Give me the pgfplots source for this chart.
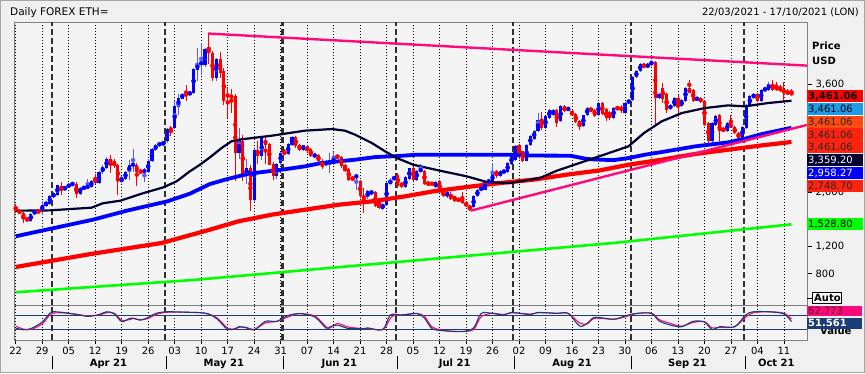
\documentclass[border=0pt]{standalone}
\usepackage{fontspec}
\setmainfont{DejaVu Sans}
\usepackage{pgfplots}
\pgfplotsset{compat=1.18}
\usepackage{pgfplotstable}
\definecolor{outerbg}{HTML}{F0F0F0}
\definecolor{plotbg}{HTML}{F4F4F4}
\definecolor{framec}{HTML}{808080}
\definecolor{monthc}{HTML}{303030}
\definecolor{upc}{HTML}{0000FF}
\definecolor{upwick}{HTML}{5A5AFF}
\definecolor{dnc}{HTML}{FF0000}
\definecolor{maA}{HTML}{000033}
\definecolor{maB}{HTML}{0000FF}
\definecolor{maC}{HTML}{FF0000}
\definecolor{maD}{HTML}{00FF00}
\definecolor{pinkc}{HTML}{FF0A7A}
\definecolor{stochK}{HTML}{1A3C78}
\definecolor{boxsky}{HTML}{1E9BE6}
\definecolor{boxor}{HTML}{FF4A10}
\definecolor{boxrd}{HTML}{FF2410}
\definecolor{boxnavy}{HTML}{00002E}

\pgfplotstableread{
d o h l c
0 1794 1830 1700 1730
1 1730 1760 1680 1695
2 1695 1710 1550 1610
3 1615 1640 1560 1595
4 1582 1700 1570 1680
5 1680 1745 1665 1730
6 1730 1750 1690 1705
7 1730 1870 1660 1820
8 1804 1880 1790 1858
9 1834 1960 1820 1952
10 1932 2000 1915 1987
11 1967 2110 1950 2105
12 2090 2150 1960 2026
13 2036 2100 2020 2090
14 2075 2140 2060 2125
15 2110 2160 2095 2140
16 2130 2150 1920 1982
17 1982 2075 1970 2066
18 2056 2100 2040 2080
19 2066 2200 2050 2100
20 2086 2180 2070 2165
21 2214 2280 2120 2135
22 2135 2320 2120 2308
23 2298 2400 2280 2382
24 2362 2520 2350 2501
25 2496 2560 2290 2446
26 2471 2490 2360 2387
27 2402 2420 1960 2165
28 2155 2240 2140 2224
29 2204 2320 2190 2303
30 2298 2480 2190 2412
31 2402 2650 2310 2422
32 2412 2430 2100 2303
33 2323 2340 2280 2298
34 2298 2360 2150 2338
35 2303 2490 2290 2471
36 2461 2660 2450 2644
37 2634 2720 2620 2708
38 2698 2750 2680 2733
39 2698 2770 2690 2757
40 2757 2960 2740 2940
41 2955 2980 2840 2916
42 2955 3350 2940 3286
43 3266 3460 3150 3400
44 3390 3480 3380 3464
45 3459 3600 3360 3444
46 3449 3510 3430 3488
47 3474 3840 3460 3829
48 3819 4140 3650 3908
49 3900 4215 3740 3930
50 3884 4140 3860 4126
51 4126 4358 3900 4066
52 4066 4100 3650 3696
53 3696 4000 3650 3978
54 3978 4080 3700 3770
55 3795 3850 3300 3350
56 3450 3570 3100 3425
57 3430 3540 3180 3410
58 3425 3460 2166 2585
59 2585 2950 2500 2782
60 2758 2850 2166 2240
61 2264 2500 2120 2363
62 2363 2400 1730 1893
63 1893 2650 1860 2634
64 2634 2760 2420 2536
65 2536 2830 2480 2807
66 2782 2820 2420 2708
67 2718 2740 2400 2412
68 2422 2450 2190 2240
69 2240 2430 2200 2422
70 2437 2600 2400 2585
71 2610 2640 2550 2570
72 2570 2730 2550 2718
73 2708 2830 2690 2817
74 2817 2840 2660 2683
75 2708 2720 2620 2634
76 2624 2710 2610 2698
77 2683 2700 2590 2609
78 2649 2660 2520 2536
79 2536 2580 2520 2560
80 2550 2570 2440 2461
81 2471 2490 2350 2372
82 2402 2480 2390 2461
83 2412 2580 2290 2486
84 2422 2600 2410 2535
85 2545 2560 2500 2520
86 2520 2540 2370 2387
87 2402 2420 2300 2323
88 2347 2360 2170 2190
89 2229 2240 2170 2190
90 2214 2280 2040 2264
91 2175 2190 1920 1942
92 1942 2070 1700 1918
93 1932 2030 1910 2017
94 1990 2040 1970 2007
95 2002 2020 1780 1794
96 1868 1890 1750 1770
97 1760 1850 1745 1829
98 1819 2160 1800 2140
99 2125 2210 2110 2190
100 2190 2250 2170 2239
101 2264 2290 2070 2091
102 2140 2160 2070 2091
103 2076 2240 2060 2224
104 2204 2370 2190 2362
105 2362 2380 2170 2190
106 2190 2340 2170 2323
107 2313 2420 2300 2347
108 2323 2340 2110 2125
109 2155 2170 2090 2115
110 2140 2160 2100 2115
111 2076 2165 2060 2150
112 2165 2180 2000 2017
113 2026 2040 1930 1943
114 1943 2015 1925 2002
115 1982 2000 1890 1908
116 1943 1955 1860 1878
117 1908 1920 1860 1878
118 1928 2000 1830 1844
119 1854 1870 1780 1794
120 1794 1810 1730 1770
121 1780 1960 1765 1943
122 1943 2050 1930 2041
123 2046 2080 2030 2066
124 2041 2170 2030 2155
125 2140 2200 2125 2190
126 2165 2440 2150 2273
127 2313 2330 2220 2239
128 2239 2330 2225 2313
129 2298 2340 2280 2323
130 2303 2450 2290 2437
131 2422 2550 2410 2535
132 2486 2710 2470 2683
133 2698 2720 2500 2520
134 2609 2620 2450 2471
135 2471 2720 2460 2708
136 2708 2850 2690 2832
137 2792 2930 2780 2916
138 2906 3177 2890 3079
139 3079 3200 2930 2955
140 2955 3140 2940 3128
141 3103 3240 3090 3227
142 3153 3240 3140 3227
143 3227 3240 2970 3029
144 3054 3290 3040 3276
145 3276 3290 3190 3202
146 3227 3260 3210 3251
147 3202 3215 3130 3143
148 3163 3175 3030 3044
149 3054 3070 2930 2990
150 2990 3150 2975 3143
151 3153 3260 3140 3251
152 3251 3265 3190 3202
153 3227 3240 3115 3128
154 3143 3340 3130 3326
155 3320 3340 3150 3170
156 3230 3250 3060 3110
157 3190 3210 3080 3100
158 3110 3270 3095 3250
159 3260 3275 3220 3240
160 3255 3300 3180 3230
161 3180 3340 3170 3320
162 3320 3390 3305 3375
163 3375 3720 3360 3707
164 3707 3820 3690 3800
165 3800 3915 3785 3900
166 3900 3920 3840 3860
167 3860 3915 3840 3900
168 3900 3960 3880 3930
169 3930 3950 3004 3400
170 3400 3480 3380 3460
171 3548 3620 3330 3390
172 3459 3480 3180 3227
173 3242 3310 3225 3291
174 3276 3420 3260 3400
175 3400 3450 3120 3276
176 3276 3390 3260 3375
177 3360 3560 3345 3548
178 3548 3661 3530 3474
179 3523 3540 3345 3360
180 3375 3420 3360 3400
181 3390 3410 3330 3350
182 3350 3365 2990 3004
183 3029 3045 2740 2757
184 2757 3045 2740 3029
185 3005 3145 2990 3128
186 3143 3160 2757 2915
187 2955 2970 2890 2906
188 2906 3045 2890 3029
189 3029 3153 2950 2965
190 2965 2980 2865 2881
191 2881 2895 2790 2807
192 2807 2980 2790 2965
193 2955 3310 2940 3291
194 3291 3440 3275 3424
195 3400 3480 3385 3464
196 3464 3480 3340 3360
197 3360 3530 3345 3513
198 3508 3570 3490 3548
199 3523 3640 3505 3607
200 3607 3660 3500 3523
201 3572 3640 3500 3523
202 3558 3600 3490 3508
203 3523 3640 3360 3474
204 3498 3530 3440 3459
205 3474 3530 3440 3461.06
}\candles

\pgfplotsset{
  panel/.style={
    scale only axis, width=792.31pt,
    xmin=-0.28, xmax=209.1,
    axis background/.style={fill=plotbg},
    axis line style={framec, line width=0.8pt},
    xtick={0,7,...,203}, xticklabels={},
    xmajorgrids,
    major grid style={black, line width=0.8pt, dash pattern=on 1pt off 2pt},
    extra x ticks={9.5,39.5,70.5,100.5,131.5,162.5,192.5},
    extra x tick labels={},
    extra x tick style={major tick length=0pt, major grid style={monthc, line width=2.2pt, dash pattern=on 6pt off 3pt}},
  },
  body/.style={#1, only marks, mark=none, forget plot,
    error bars/.cd, y dir=both, y explicit, error mark=none,
    error bar style={line width=3.1pt, draw=#1, color=#1}},
  wick/.style={#1, only marks, mark=none, forget plot,
    error bars/.cd, y dir=both, y explicit, error mark=none,
    error bar style={line width=0.9pt, draw=#1, color=#1}},
}

\begin{document}
\fontsize{10pt}{12pt}\selectfont
\begin{tikzpicture}
\useasboundingbox (0pt,0pt) rectangle (865pt,373pt);
\fill[outerbg] (0pt,0pt) rectangle (865pt,373pt);
\draw[framec!70, line width=1pt] (0.5pt,0.5pt) rectangle (864.5pt,372.5pt);
\node[anchor=base west, inner sep=0pt, font=\fontsize{10.5pt}{12pt}\selectfont] at (10pt,357pt) {Daily FOREX ETH=};
\node[anchor=base east, inner sep=0pt] at (859pt,357pt) {22/03/2021 - 17/10/2021 (LON)};

% ---------------- main price panel
\begin{axis}[panel,
  at={(14.69pt,68pt)}, anchor=south west, height=283pt,
  ymin=333, ymax=4526,
  xtick style={draw=none},
  ytick={800,1200,2000,3600}, ytick pos=right, yticklabel pos=right,
  ytick style={black, line width=0.8pt},
  tick align=outside, major tick length=5pt,
  scaled y ticks=false,
  yticklabel style={font=\fontsize{10pt}{12pt}\selectfont, text=black},
  /pgf/number format/assume math mode=true,
  /pgf/number format/1000 sep={,},
]
% wicks
\addplot[wick=upwick] table[x=d, y expr={(\thisrow{h}+\thisrow{l})/2}, y error expr={(\thisrow{h}-\thisrow{l})/2},
  restrict expr to domain={\thisrow{c}-\thisrow{o}}{0:100000}] \candles;
\addplot[wick=dnc] table[x=d, y expr={(\thisrow{h}+\thisrow{l})/2}, y error expr={(\thisrow{h}-\thisrow{l})/2},
  restrict expr to domain={\thisrow{c}-\thisrow{o}}{-100000:-0.001}] \candles;
% bodies
\addplot[body=upc] table[x=d, y expr={(\thisrow{o}+\thisrow{c})/2}, y error expr={abs(\thisrow{c}-\thisrow{o})/2},
  restrict expr to domain={\thisrow{c}-\thisrow{o}}{0:100000}] \candles;
\addplot[body=dnc] table[x=d, y expr={(\thisrow{o}+\thisrow{c})/2}, y error expr={abs(\thisrow{c}-\thisrow{o})/2},
  restrict expr to domain={\thisrow{c}-\thisrow{o}}{-100000:-0.001}] \candles;

% green long moving average
\addplot[maD, line width=2.6pt] coordinates {(0,522) (47,704) (100,966) (158,1252) (205,1528.8)};
% red moving average
\addplot[maC, line width=4.2pt] coordinates {
(0,896) (20,1090) (38.6,1252) (51.3,1449) (58.8,1572) (67.6,1671) (76.4,1745) (85.3,1819)
(94,1868) (102.9,1943) (110.3,2017) (119.2,2081) (128,2140) (136.8,2190) (145.6,2264)
(154.4,2328) (162,2412) (170.7,2486) (179.5,2570) (188.3,2634) (197.2,2698) (205,2748.7)};
% blue moving average
\addplot[maB, line width=3.8pt] coordinates {
(0,1351) (9,1460) (20.5,1598) (29.3,1730) (40,1868) (46,1982) (51.3,2125) (55.3,2190)
(61.5,2278) (70.3,2338) (76.4,2387) (80.8,2437) (89.7,2486) (95,2525) (101,2540) (106,2560)
(129.8,2560) (135,2548) (146.5,2545) (151,2496) (154.4,2486) (158,2480) (161.9,2510)
(166.3,2560) (170.7,2599) (179.5,2683) (188.3,2743) (192.7,2797) (197.2,2866) (205,2958.27)};
% black moving average
\addplot[maA, line width=2.2pt] coordinates {
(0,1730) (9,1735) (20,1775) (23,1840) (27.6,1878) (33.7,1990) (39,2076) (42.5,2165)
(46,2313) (48.7,2412) (51.3,2520) (54.4,2659) (57,2758) (58.8,2782) (67.6,2841) (76.4,2916)
(83.5,2940) (87,2916) (89.7,2856) (94.1,2733) (97.6,2610) (100.7,2510) (102.9,2461)
(105,2412) (112.1,2323) (119.2,2239) (124.5,2155) (130.6,2140) (138.5,2214) (143,2323)
(149,2437) (154.4,2540) (161.9,2683) (166,2880) (170.7,3054) (176,3177) (182.1,3251)
(188.3,3291) (192.7,3276) (198.9,3326) (205,3359.2)};
% trend lines
\addplot[pinkc, line width=2.4pt] coordinates {(50.8,4355) (209.1,3880)};
\addplot[pinkc, line width=2.4pt] coordinates {(120.2,1730) (209.1,3001)};
\end{axis}

% ---------------- stochastic panel
\begin{axis}[panel,
  at={(14.69pt,33pt)}, anchor=south west, height=35pt,
  ymin=-27, ymax=123, ytick=\empty,
  xtick pos=bottom, tick align=outside, major tick length=4pt,
  xtick style={black, line width=0.8pt},
]
\addplot[stochK, line width=0.9pt] coordinates {(-0.28,80) (209.1,80)};
\addplot[stochK, line width=0.9pt] coordinates {(-0.28,20) (209.1,20)};
\addplot[pinkc, line width=1.1pt, smooth] coordinates {
(0,33) (2,20) (4,18) (7,42) (9,80) (10,88) (12,90) (14,88) (17,81) (19,76) (22,80) (24,90)
(26,88) (28,58) (30,60) (31,65) (33,60) (35,65) (37,82) (40,92) (45,92) (50,88) (53,70)
(56,24) (58,20) (59,28) (61,27) (63,18) (66,46) (69,53) (72,72) (75,86) (79,76) (82,30)
(83,24) (85,44) (88,28) (92,22) (93,22) (97,18) (99,65) (100,78) (102,80) (106,86) (108,75)
(110,30) (113,14) (118,10) (121,18) (123,73) (126,87) (129,82) (131,90) (136,84) (138,90)
(143,88) (146,87) (149,46) (151,42) (153,66) (158,62) (161,72) (164,86) (168,88) (170,61)
(173,44) (176,32) (179,48) (182,52) (184,25) (186,27) (190,30) (193,72) (195,90) (199,94)
(203,88) (205,62.773)};
\addplot[stochK, line width=1.1pt, smooth] coordinates {
(0,24) (2,17) (4,22) (7,50) (9,88) (10,94) (12,92) (14,87) (17,80) (19,74) (22,82) (24,94)
(26,86) (28,52) (30,65) (31,67) (33,58) (35,70) (37,87) (40,94) (45,92) (50,88) (53,66)
(56,18) (58,22) (59,30) (61,25) (63,16) (66,53) (69,53) (72,78) (75,86) (79,72) (82,24)
(83,29) (85,37) (88,22) (92,22) (93,25) (97,18) (99,80) (102,80) (106,87) (108,67) (110,22)
(113,13) (118,9) (121,25) (123,87) (126,87) (129,80) (131,91) (136,82) (138,91) (143,87)
(146,87) (149,33) (151,44) (153,70) (158,62) (161,76) (164,87) (168,87) (170,55) (173,37)
(176,30) (179,53) (182,50) (184,18) (186,30) (190,30) (193,82) (195,94) (199,94) (203,85)
(205,51.561)};
\end{axis}

% ---------------- x-axis day and month labels
\foreach \d/\t in {0/22,7/29,14/05,21/12,28/19,35/26,42/03,49/10,56/17,63/24,70/31,77/07,84/14,91/21,98/28,105/05,112/12,119/19,126/26,133/02,140/09,147/16,154/23,161/30,168/06,175/13,182/20,189/27,196/04,203/11}
  \node[anchor=base, inner sep=0pt] at ({15.75pt+3.7841pt*\d},19pt) {\t};
\foreach \d in {9.8,39.8,70.8,100.8,131.8,162.8,192.8}
  \draw[black, line width=0.9pt] ({15.75pt+3.7841pt*\d},4pt) -- ({15.75pt+3.7841pt*\d},17pt);
\foreach \d/\t in {24.5/Apr 21,55/May 21,85.5/Jun 21,116/Jul 21,147/Aug 21,177.5/Sep 21,201/Oct 21}
  \node[anchor=base, inner sep=0pt, font=\bfseries] at ({15.75pt+3.7841pt*\d},6.8pt) {\t};

% ---------------- right side labels
\node[anchor=base west, inner sep=0pt, font=\bfseries] at (812pt,323pt) {Price};
\node[anchor=base west, inner sep=0pt, font=\bfseries] at (812pt,308pt) {USD};

\fill[dnc]     (807pt,270.6pt) rectangle (863pt,283.4pt);
\node[anchor=base west, inner sep=0pt, font=\bfseries] at (808pt,273.3pt) {3,461.06};
\fill[boxsky]  (807pt,257.6pt) rectangle (863pt,270.4pt);
\node[anchor=base west, inner sep=0pt] at (808pt,260.3pt) {3,461.06};
\fill[boxor]   (807pt,244.6pt) rectangle (863pt,257.4pt);
\node[anchor=base west, inner sep=0pt, text=black!85] at (808pt,247.3pt) {3,461.06};
\fill[boxrd]   (807pt,232.1pt) rectangle (863pt,244.9pt);
\node[anchor=base west, inner sep=0pt, text=black!85] at (808pt,234.8pt) {3,461.06};
\fill[boxrd]   (807pt,219.6pt) rectangle (863pt,232.4pt);
\node[anchor=base west, inner sep=0pt, text=black!85] at (808pt,222.3pt) {3,461.06};
\fill[boxnavy] (807pt,206.6pt) rectangle (863pt,219.4pt);
\node[anchor=base west, inner sep=0pt, text=white] at (808pt,209.3pt) {3,359.20};
\fill[maB]     (807pt,193.6pt) rectangle (863pt,206.4pt);
\node[anchor=base west, inner sep=0pt, text=white] at (808pt,196.3pt) {2,958.27};
\fill[boxrd]   (807pt,180.6pt) rectangle (863pt,193.4pt);
\node[anchor=base west, inner sep=0pt, text=black!85] at (808pt,183.3pt) {2,748.70};

\fill[maD] (807pt,142.6pt) rectangle (863pt,155.4pt);
\node[anchor=base west, inner sep=0pt] at (808pt,145.3pt) {1,528.80};

% Auto button
\draw[black, line width=0.8pt] (807pt,75pt) -- (812pt,75pt);
\draw[black, line width=0.9pt, fill=white!70!outerbg] (812.7pt,70pt) rectangle (841.7pt,80.5pt);
\node[anchor=base west, inner sep=0pt, font=\bfseries] at (814pt,71.5pt) {Auto};

% stochastic value labels
\node[anchor=base west, inner sep=0pt, font=\bfseries] at (820pt,39pt) {Value};
\fill[pinkc] (807pt,57.5pt) rectangle (862pt,67.5pt);
\node[anchor=base west, inner sep=0pt, text=black!70!pinkc] at (808pt,58.7pt) {62.773};
\fill[stochK] (807pt,44.5pt) rectangle (862pt,55.5pt);
\node[anchor=base west, inner sep=0pt, text=white, font=\bfseries] at (808pt,46.3pt) {51.561};
\end{tikzpicture}
\end{document}
